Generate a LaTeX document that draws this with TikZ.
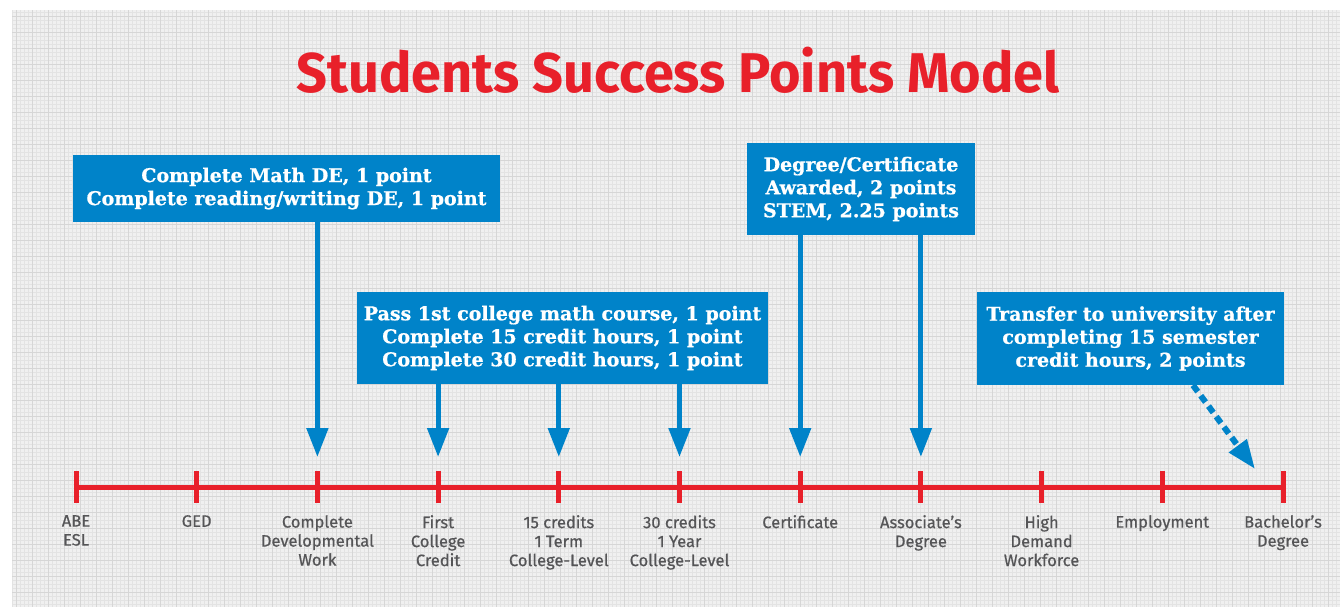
\documentclass[tikz,border=0pt]{standalone}
\usepackage{fontspec}
\setmainfont{Fira Sans}
\newfontfamily\labelfont[FakeBold=0.6]{Fira Sans}
\newfontfamily\titlefont[FakeStretch=0.965]{Fira Sans}
\newfontfamily\boxfont[FakeBold=0.8]{DejaVu Serif}
\usetikzlibrary{arrows.meta}
\definecolor{ssred}{RGB}{232,32,42}
\definecolor{ssblue}{RGB}{0,131,201}
\definecolor{ssgray}{RGB}{85,85,87}

\begin{document}
\begin{tikzpicture}[x=1pt,y=-1pt,
    pointbox/.style={fill=ssblue, text=white, font=\boxfont\bfseries\fontsize{19}{23}\selectfont, align=center, inner sep=0pt},
    pointer/.style={ssblue, line width=5pt, -{Triangle[width=21pt,length=29pt]}},
    stoplabel/.style={ssgray, font=\labelfont\fontsize{16.5}{19}\selectfont, align=center, anchor=north, inner sep=0pt},
    timeline/.style={ssred, line width=5pt}]
        \useasboundingbox (0,0) rectangle (1340,607);
        % paper
        \fill[white] (0,0) rectangle (1340,607);
        \fill[black!6] (12,10) rectangle (1340,607);
        \draw[black!11, line width=0.4pt, step=4pt] (12,10) grid (1340,607);
        \draw[black!16, line width=0.5pt, step=16pt] (12,10) grid (1340,607);

        \node[ssred, font=\titlefont\bfseries\fontsize{56}{60}\selectfont, anchor=base] (title) at (678,93) {Students Success Points Model};

        % timeline
        \foreach \i in {0,...,10} {
            \coordinate (t\i) at (76+120.7*\i,487);
            \coordinate (h\i) at ([yshift=30pt]t\i);
        }
        \draw[timeline] (t0) -- (t10);
        \foreach \i in {0,...,10}
            \draw[timeline] ([yshift=16pt]t\i) -- ([yshift=-16pt]t\i);
        \foreach \lab [count=\i from 0] in {{ABE\\ESL}, GED, {Complete\\Developmental\\Work}, {First\\College\\Credit},
                {15 credits\\1 Term\\College-Level}, {30 credits\\1 Year\\College-Level}, Certificate,
                {Associate’s\\Degree}, {High\\Demand\\Workforce}, Employment, {Bachelor’s\\Degree}}
            \node[stoplabel] (s\i) at ([yshift=-28pt]t\i) {\lab};

        % boxes
        \node[pointbox, minimum width=427pt, minimum height=67pt] (devbox) at (286.5,188.5)
            {Complete Math DE, 1 point\\Complete reading/writing DE, 1 point};
        \node[pointbox, minimum width=411pt, minimum height=92pt] (creditbox) at (562.5,338)
            {Pass 1st college math course, 1 point\\Complete 15 credit hours, 1 point\\Complete 30 credit hours, 1 point};
        \node[pointbox, minimum width=228pt, minimum height=92pt] (awardbox) at (861,189)
            {Degree/Certificate\\Awarded, 2 points\\STEM, 2.25 points};
        \node[pointbox, minimum width=307pt, minimum height=93pt] (transferbox) at (1130.5,338.5)
            {Transfer to university after\\completing 15 semester\\credit hours, 2 points};

        \draw[pointer] (devbox.south -| h2) -- (h2);
        \foreach \i in {3,4,5}
            \draw[pointer] (creditbox.south -| h\i) -- (h\i);
        \draw[pointer] (awardbox.south -| h6) -- (h6);
        \draw[pointer] (awardbox.south -| h7) -- (h7);
        \coordinate (bach) at ([shift={(-28pt,18pt)}]t10);
        \draw[pointer, line width=6pt, dash pattern=on 8pt off 5pt] ([xshift=62.5pt]transferbox.south) -- (bach);
\end{tikzpicture}
\end{document}
